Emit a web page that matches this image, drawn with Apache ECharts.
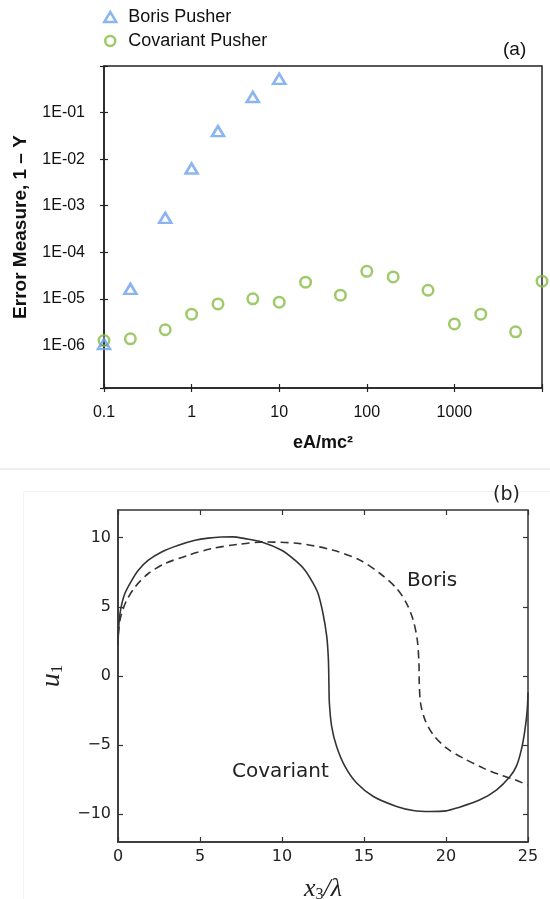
<!DOCTYPE html>
<html><head><meta charset="utf-8">
<script src="https://cdn.jsdelivr.net/npm/echarts@6/dist/echarts.min.js"></script>
<style>html,body{margin:0;padding:0;background:#fff}#c{width:550px;height:899px}</style>
</head><body><div id="c"></div>
<script>
// Panel (a): error measure vs eA/mc^2 (log-log)
const borisA = [0.1, 0.2, 0.5, 1, 2, 5, 10];
const borisErr = [1.07e-6, 1.64e-5, 5.5e-4, 6.3e-3, 4.0e-2, 0.216, 0.53];
const covA = [0.1, 0.2, 0.5, 1, 2, 5, 10, 20, 50, 100, 200, 500, 1000, 2000, 5000, 10000];
const covErr = [1.28e-6, 1.39e-6, 2.17e-6, 4.7e-6, 7.8e-6, 1.0e-5, 8.5e-6, 2.28e-5, 1.2e-5, 3.9e-5, 2.96e-5, 1.53e-5, 2.9e-6, 4.7e-6, 1.96e-6, 2.4e-5];

// Panel (b): u1 vs x3/lambda trajectories
const covX3 = [0, 0.04, 0.12, 0.25, 0.43, 0.83, 1.24, 1.85, 2.66, 3.68, 4.7, 5.5, 6.32, 7.0, 7.74, 8.76, 9.98, 10.79, 11.4, 11.9, 12.2, 12.5, 12.73, 12.83, 12.86, 12.89, 13.03, 13.33, 13.84, 14.55, 15.57, 16.99, 18.0, 19.02, 20.0, 20.65, 22.07, 23.09, 23.9, 24.3, 24.6, 24.8, 24.95, 25];
const covU1 = [2.2, 3.5, 4.5, 5.3, 6.0, 6.9, 7.65, 8.37, 8.97, 9.45, 9.81, 9.97, 10.05, 10.06, 9.93, 9.69, 9.09, 8.37, 7.65, 6.7, 5.97, 4.52, 2.84, 1.15, -0.5, -1.97, -3.66, -5.1, -6.54, -7.74, -8.71, -9.43, -9.72, -9.79, -9.75, -9.55, -8.95, -8.23, -7.27, -6.5, -5.3, -4.0, -2.5, -1.2];
const borX3 = [0.02, 0.12, 0.3, 0.53, 1.04, 1.85, 2.87, 4.29, 5.71, 7.34, 8.96, 11.1, 13.13, 14.76, 15.98, 16.99, 17.6, 18.0, 18.25, 18.35, 18.37, 18.45, 18.72, 19.23, 20.04, 21.05, 22.27, 23.29, 24.2, 25];
const borU1 = [3.0, 4.04, 4.8, 5.48, 6.44, 7.41, 8.13, 8.73, 9.21, 9.52, 9.69, 9.57, 9.09, 8.37, 7.41, 6.33, 5.24, 4.04, 2.6, 0.92, -0.5, -1.97, -3.17, -4.26, -5.22, -5.94, -6.66, -7.14, -7.5, -7.9];

const uTicks = [-10, -5, 0, 5, 10];

const zip = (a, b) => a.map((v, i) => [v, b[i]]);
const FA = 'Liberation Sans, Arial, Helvetica, sans-serif';
const FB = 'DejaVu Sans, sans-serif';
const SERIF = 'Liberation Serif, DejaVu Serif, serif';
const BLUE = '#6ea2ef', GREEN = '#86bd45', INK = '#333';

function fmtX(v) {
  const l = Math.log10(v), e = Math.round(l);
  if (Math.abs(l - e) > 1e-6 || e > 3) return '';
  return e < 0 ? v.toFixed(-e) : String(Math.round(v));
}
function fmtY(v) {
  const l = Math.log10(v), e = Math.round(l);
  if (Math.abs(l - e) > 1e-6 || e > -1 || e < -6) return '';
  return '1E-0' + (-e);
}

const chart = echarts.init(document.getElementById('c'), null, {renderer: 'canvas'});
const axLine = {show: true, onZero: false, lineStyle: {color: '#222', width: 1.5}};
const noLine = {show: false, onZero: false};
chart.setOption({
  animation: false,
  backgroundColor: '#fff',
  grid: [
    {left: 104, top: 66, width: 438, height: 322, show: true, borderColor: '#222', borderWidth: 1.5, backgroundColor: 'transparent', outerBoundsMode: 'none', containLabel: false},
    {left: 118, top: 510, width: 410, height: 332, show: true, borderColor: INK, borderWidth: 1.5, backgroundColor: 'transparent', outerBoundsMode: 'none', containLabel: false}
  ],
  legend: {
    data: ['Boris Pusher', 'Covariant Pusher'],
    orient: 'vertical', left: 98, top: 3, itemWidth: 12, itemHeight: 10, itemGap: 6,
    itemStyle: {borderWidth: 2.5},
    textStyle: {fontFamily: FA, fontSize: 18, color: '#111', padding: [0, 0, 0, 7]}
  },
  xAxis: [
    {type: 'log', gridIndex: 0, min: 0.1, max: 10000, logBase: 10, position: 'bottom',
     axisLine: axLine, axisTick: {show: true, length: 4, lineStyle: {color: '#222', width: 1.2}},
     axisLabel: {formatter: fmtX, fontFamily: FA, fontSize: 16, color: '#111', margin: 17},
     splitLine: {show: false}, minorTick: {show: false},
     name: 'eA/mc²', nameLocation: 'middle', nameGap: 46,
     nameTextStyle: {fontFamily: FA, fontSize: 18, fontWeight: 'bold', color: '#111'}},
    {type: 'log', gridIndex: 0, min: 0.1, max: 10000, logBase: 10, position: 'bottom',
     axisLine: noLine, axisLabel: {show: false}, splitLine: {show: false},
     axisTick: {show: true, inside: true, length: 4, lineStyle: {color: '#222', width: 1.2}}},
    {type: 'value', gridIndex: 1, min: 0, max: 25, interval: 5, position: 'bottom',
     axisLine: {show: true, onZero: false, lineStyle: {color: INK, width: 1.5}},
     axisTick: {show: true, inside: true, length: 5, lineStyle: {color: INK, width: 1.2}},
     axisLabel: {fontFamily: FB, fontSize: 16, color: '#222', margin: 7},
     splitLine: {show: false},
     name: '{i|x}{s|3}{i|/λ}', nameLocation: 'middle', nameGap: 33,
     nameTextStyle: {rich: {
       i: {fontFamily: SERIF, fontStyle: 'italic', fontSize: 26, color: '#222'},
       s: {fontFamily: SERIF, fontSize: 16, color: '#222', verticalAlign: 'bottom', padding: [12, 0, 0, 0]}
     }}},
    {type: 'value', gridIndex: 1, min: 0, max: 25, interval: 5, position: 'top',
     axisLine: noLine, axisLabel: {show: false}, splitLine: {show: false},
     axisTick: {show: true, inside: true, length: 5, lineStyle: {color: INK, width: 1.2}}}
  ],
  yAxis: [
    {type: 'log', gridIndex: 0, min: 1.22e-7, max: 1, logBase: 10, position: 'left',
     axisLine: axLine, axisTick: {show: true, length: 4, lineStyle: {color: '#222', width: 1.2}},
     axisLabel: {formatter: fmtY, fontFamily: FA, fontSize: 16, color: '#111', margin: 19},
     splitLine: {show: false}, minorTick: {show: false},
     name: 'Error Measure, 1 – Y', nameLocation: 'middle', nameGap: 74,
     nameTextStyle: {fontFamily: FA, fontSize: 19, fontWeight: 'bold', color: '#111'}},
    {type: 'log', gridIndex: 0, min: 1.22e-7, max: 1, logBase: 10, position: 'left',
     axisLine: noLine, axisLabel: {show: false}, splitLine: {show: false},
     axisTick: {show: true, inside: true, length: 4, lineStyle: {color: '#222', width: 1.2}}},
    {type: 'value', gridIndex: 1, min: -12, max: 12, position: 'left',
     axisLine: {show: true, onZero: false, lineStyle: {color: INK, width: 1.5}},
     axisTick: {show: true, inside: true, length: 5, customValues: uTicks, lineStyle: {color: INK, width: 1.2}},
     axisLabel: {customValues: uTicks, formatter: v => String(v).replace('-', '\u2212'), fontFamily: FB, fontSize: 16, color: '#222', margin: 7},
     splitLine: {show: false},
     name: '{i|u}{s|1}', nameLocation: 'middle', nameGap: 48,
     nameTextStyle: {rich: {
       i: {fontFamily: SERIF, fontStyle: 'italic', fontSize: 28, color: '#222'},
       s: {fontFamily: SERIF, fontSize: 17, color: '#222', verticalAlign: 'bottom', padding: [12, 0, 0, 0]}
     }}},
    {type: 'value', gridIndex: 1, min: -12, max: 12, position: 'right',
     axisLine: noLine, axisLabel: {show: false}, splitLine: {show: false},
     axisTick: {show: true, inside: true, length: 5, customValues: uTicks, lineStyle: {color: INK, width: 1.2}}}
  ],
  series: [
    {name: 'Boris Pusher', type: 'scatter', xAxisIndex: 0, yAxisIndex: 0,
     data: zip(borisA, borisErr), symbol: 'triangle', symbolSize: [12, 10],
     itemStyle: {color: 'rgba(255,255,255,0)', borderColor: BLUE, borderWidth: 2.6}, z: 3},
    {name: 'Covariant Pusher', type: 'scatter', xAxisIndex: 0, yAxisIndex: 0,
     data: zip(covA, covErr), symbol: 'circle', symbolSize: 10.5,
     itemStyle: {color: 'rgba(255,255,255,0)', borderColor: GREEN, borderWidth: 2.5}, z: 2},
    {name: 'Covariant', type: 'line', xAxisIndex: 2, yAxisIndex: 2, data: zip(covX3, covU1),
     smooth: 0.3, showSymbol: false, lineStyle: {color: INK, width: 1.6}},
    {name: 'Boris', type: 'line', xAxisIndex: 2, yAxisIndex: 2, data: zip(borX3, borU1),
     smooth: 0.3, showSymbol: false, lineStyle: {color: INK, width: 1.6, type: [8, 5]}}
  ],
  graphic: [
    {type: 'line', shape: {x1: 0, y1: 469, x2: 550, y2: 469}, style: {stroke: '#e0e0e0', lineWidth: 1}, silent: true},
    {type: 'rect', shape: {x: 23.5, y: 491.5, width: 540, height: 420}, style: {fill: null, stroke: '#f3f3f3', lineWidth: 1}, silent: true},
    {type: 'text', x: 503, y: 50, style: {text: '(a)', fontFamily: FA, fontSize: 19, fill: '#111', verticalAlign: 'middle'}},
    {type: 'text', x: 493, y: 495, style: {text: '(b)', fontFamily: FB, fontSize: 19, fill: '#222', verticalAlign: 'middle'}},
    {type: 'text', x: 407, y: 581, style: {text: 'Boris', fontFamily: FB, fontSize: 20, fill: '#222', verticalAlign: 'middle'}},
    {type: 'text', x: 232, y: 772, style: {text: 'Covariant', fontFamily: FB, fontSize: 20, fill: '#222', verticalAlign: 'middle'}}
  ]
});
</script></body></html>
